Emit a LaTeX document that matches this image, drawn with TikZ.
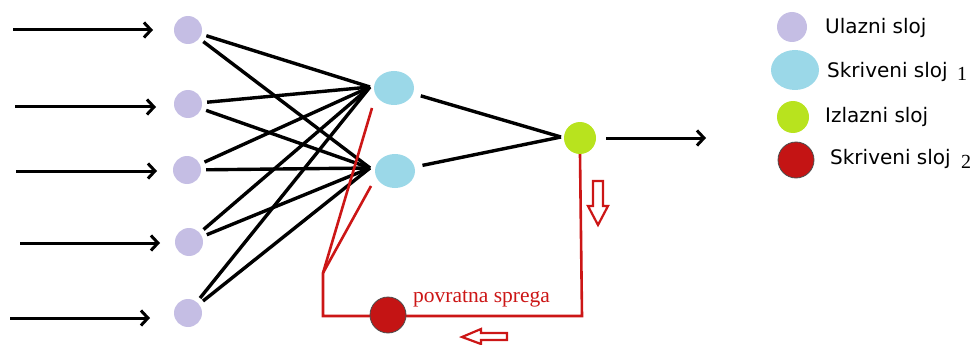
\documentclass[tikz,border=0pt]{standalone}
\usepackage{fontspec}
\setmainfont{DejaVu Sans}
\newfontfamily\serifnum{Liberation Serif}
\usetikzlibrary{arrows.meta,shapes.geometric}
\definecolor{lav}{HTML}{C5BEE4}
\definecolor{lblue}{HTML}{9BD8E8}
\definecolor{lgreen}{HTML}{B8E31E}
\definecolor{dred}{HTML}{C41414}
\definecolor{lred}{HTML}{CC1616}
\tikzset{
  inp/.style={circle,fill=lav,minimum size=28pt,inner sep=0pt},
  hid/.style={ellipse,fill=lblue,minimum width=40pt,minimum height=34pt,inner sep=0pt},
  outn/.style={circle,fill=lgreen,minimum size=32pt,inner sep=0pt},
  fb/.style={circle,fill=dred,draw=black!70,line width=0.8pt,minimum size=36pt,inner sep=0pt},
  conn/.style={line width=3.4pt,black},
  inarrow/.style={line width=3pt,black,-{Straight Barb[length=7pt,width=15pt,line width=3pt]}},
  redline/.style={line width=2.6pt,lred},
  hollow/.style={line width=2.2pt,lred,line join=miter},
  legtext/.style={anchor=west,inner sep=0pt,font=\fontsize{20}{24}\selectfont},
}
\begin{document}
\begin{tikzpicture}[x=1pt,y=-1pt]
\useasboundingbox (0,0) rectangle (978,345);
% input nodes
\node[inp] (i1) at (188,30) {};
\node[inp] (i2) at (188,104) {};
\node[inp] (i3) at (187,170) {};
\node[inp] (i4) at (189,242) {};
\node[inp] (i5) at (188,313) {};
% hidden layer 1
\node[hid] (h1) at (394,88) {};
\node[hid] (h2) at (395,171) {};
% output
\node[outn] (o) at (580,138) {};
% convergence points
\coordinate (j1) at (370,87);
\coordinate (j2) at (370,168);
\coordinate (jo) at (561,137);
% input arrows
\coordinate (a1) at (13,30);
\coordinate (a2) at (15,107);
\coordinate (a3) at (16,171);
\coordinate (a4) at (20,243);
\coordinate (a5) at (10,318);
\coordinate (b1) at (153,30);
\coordinate (b2) at (156,107);
\coordinate (b3) at (157,171);
\coordinate (b4) at (160,243);
\coordinate (b5) at (150,318);
\foreach \k in {1,...,5} {\draw[inarrow] (a\k) -- (b\k);}
% connections input -> hidden
\foreach \k in {1,...,5} {
  \draw[conn,shorten <=5pt] (i\k) -- (j1);
  \draw[conn,shorten <=5pt] (i\k) -- (j2);
}
% hidden -> output
\draw[conn,shorten <=8pt] (h1) -- (jo);
\draw[conn,shorten <=8pt] (h2) -- (jo);
% output arrow
\coordinate (oe) at (706,138);
\draw[inarrow,shorten <=10pt] (o) -- (oe);
% feedback
\coordinate (c1) at (582,316);
\coordinate (c2) at (323,316);
\coordinate (c3) at (323,273);
\coordinate (t1) at (372,108);
\coordinate (t2) at (371,186);
\draw[redline] (o.south) -- (c1) -- (c2) -- (c3) -- (t1);
\draw[redline] (c3) -- (t2);
\node[fb] (r) at (388,315) {};
\node[anchor=base west,inner sep=0pt,text=lred,font=\serifnum\fontsize{21.5}{24}\selectfont] (pt) at (413,302) {povratna sprega};
% hollow arrows
\draw[hollow] (593,181) -- (603,181) -- (603,206) -- (608,206) -- (598,225) -- (588,206) -- (593,206) -- cycle;
\draw[hollow] (507,333) -- (481,333) -- (481,329) -- (462,337) -- (481,344) -- (481,340) -- (507,340) -- cycle;
% legend
\node[inp,minimum size=30pt] (l1) at (792,27) {};
\node[hid,minimum width=48pt,minimum height=40pt] (l2) at (795,70) {};
\node[outn] (l3) at (793,117) {};
\node[fb] (l4) at (796,160) {};
\node[legtext] (t1l) at (825,28) {Ulazni sloj};
\node[legtext] (t2l) at (827,72) {Skriveni sloj};
\node[anchor=west,inner sep=0pt,font=\serifnum\fontsize{20}{24}\selectfont] (n1) at (957,74) {1};
\node[legtext] (t3l) at (825,117) {Izlazni sloj};
\node[legtext] (t4l) at (830,159) {Skriveni sloj};
\node[anchor=west,inner sep=0pt,font=\serifnum\fontsize{20}{24}\selectfont] (n2) at (961,162) {2};
\end{tikzpicture}
\end{document}
